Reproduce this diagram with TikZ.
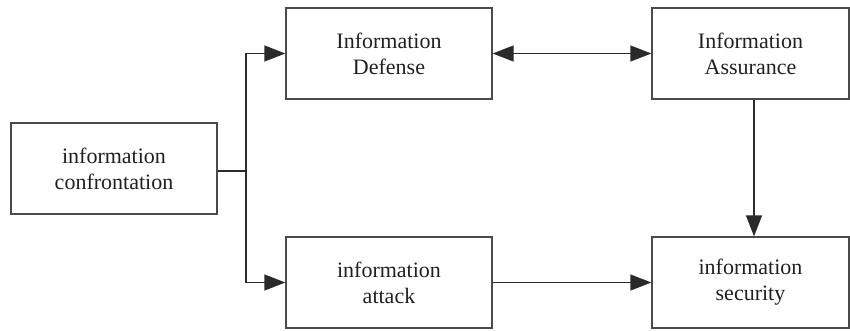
\documentclass[tikz,border=0pt]{standalone}
\usepackage{fontspec}
\setmainfont{Liberation Serif}
\usetikzlibrary{arrows.meta}
\definecolor{edge}{HTML}{2A2A2A}
\definecolor{frame}{HTML}{4A4A4A}
\definecolor{ink}{HTML}{231F20}
\begin{document}
\begin{tikzpicture}[x=1pt,y=-1pt,
  box/.style={draw=frame, line width=1.3pt, inner sep=0pt, align=center,
    font=\fontsize{22}{26}\selectfont, text=ink},
  link/.style={draw=edge, line width=1.3pt},
  tip/.style={-{Triangle[length=21pt,width=16pt]}},
  dtip/.style={{Triangle[length=21pt,width=16pt]}-{Triangle[length=21pt,width=16pt]}}]
\useasboundingbox (0,0) rectangle (850,330);
% boxes
\node[box, minimum width=206pt, minimum height=91pt] (conf) at (114,168.5) {information\\confrontation};
\node[box, minimum width=206pt, minimum height=91pt] (def) at (389,53.5) {Information\\Defense};
\node[box, minimum width=197pt, minimum height=91pt] (ass) at (750.5,53.5) {Information\\Assurance};
\node[box, minimum width=206pt, minimum height=91pt] (att) at (389,282.5) {information\\attack};
\node[box, minimum width=197pt, minimum height=91pt] (sec) at (750.5,282.5) {information\\security};
% branch point
\coordinate (split) at (246,171);
% connectors
\draw[link] (conf.east |- split) -- (split);
\draw[link, tip] (split) |- (def.west);
\draw[link, tip] (split) |- (att.west);
\draw[link, dtip] (def.east) -- (ass.west);
\draw[link, tip] (ass.south -| 754,0) -- (sec.north -| 754,0);
\draw[link, tip] (att.east) -- (sec.west);
\end{tikzpicture}
\end{document}
